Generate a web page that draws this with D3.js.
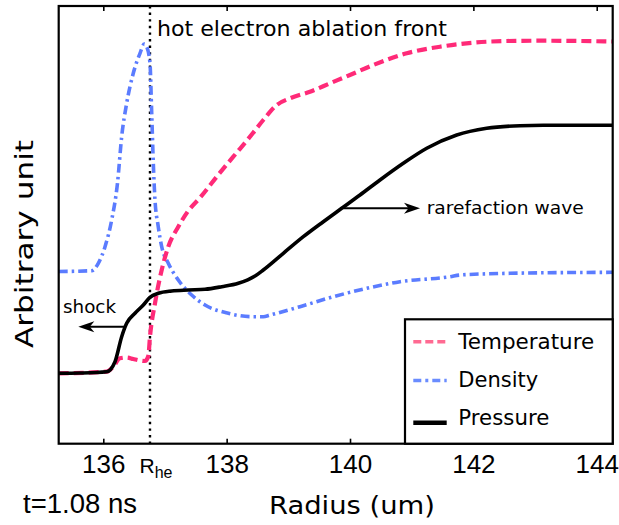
<!DOCTYPE html>
<html>
<head>
<meta charset="utf-8">
<script src="https://cdn.jsdelivr.net/npm/d3@7"></script>
<style>
  html, body { margin: 0; padding: 0; background: #fff; }
  svg { display: block; }
</style>
</head>
<body>
<svg id="chart" width="619" height="525"></svg>
<script>
// ---------- data (radius in um, values in arbitrary units) ----------
const seriesNames = ["Temperature", "Density", "Pressure"];

const temperatureR = [135.277,136.055,136.157,136.271,136.379,136.486,136.595,136.676,136.730,136.757,136.838,136.947,137.054,137.216,137.378,137.568,137.839,138.108,138.379,138.594,138.812,139.027,139.351,139.676,139.999,140.378,140.919,141.459,141.999,142.541,143.081,144.259];
const temperatureV = [16.08,16.45,17.52,19.51,19.69,19.35,19.01,18.89,20.04,24.45,32.08,39.68,45.01,49.58,53.2,56.2,61.00,65.57,70.14,73.95,77.38,78.91,80.42,82.34,84.24,86.52,89.19,90.70,91.62,92.00,92.07,91.89];

const densityR = [135.277,135.812,135.919,136.028,136.136,136.230,136.298,136.379,136.486,136.595,136.665,136.704,136.757,136.785,136.811,136.838,136.887,136.947,137.054,137.216,137.433,137.649,138.027,138.406,138.594,138.703,139.189,139.729,140.271,140.811,141.622,141.784,142.595,144.259];
const densityV = [39.34,39.52,41.22,45.01,51.11,59.5,70.14,77.77,84.62,89.19,91.32,90.70,86.91,75.49,64.06,55.68,49.97,45.01,41.22,37.40,33.97,31.69,29.79,29.02,29.02,29.40,31.30,33.58,35.50,37.01,38.15,38.54,38.93,39.16];

const pressureR = [135.277,135.622,136.055,136.190,136.298,136.379,136.514,136.649,136.757,136.892,137.109,137.378,137.649,137.920,138.189,138.460,138.594,138.919,139.243,139.567,139.865,140.162,140.486,140.864,141.244,141.730,142.216,142.756,143.134,144.259];
const pressureV = [16.08,16.15,16.45,18.73,24.45,27.51,29.79,31.69,33.45,34.36,34.89,35.12,35.28,35.87,36.65,38.31,39.68,43.50,47.29,50.72,53.78,56.82,60.25,64.06,67.49,70.53,72.06,72.65,72.74,72.74];

const xTicks = [136, 138, 140, 142, 144];
const xDomain = [135.277, 144.259];
const yDomain = [0, 100];
const rHe = 136.757;

// annotations (data coords)
const shockArrow = { from: [136.35, 26.73], to: [135.595, 26.73] };
const rareArrow  = { from: [139.891, 53.78], to: [141.135, 53.78] };

// ---------- layout ----------
const L = 58.7, T = 6, R = 612.7, B = 443.7;
const svg = d3.select("#chart");

const x = d3.scaleLinear().domain(xDomain).range([L, R]);
const y = d3.scaleLinear().domain(yDomain).range([B, T]);

const colors = { Temperature: "#ff2a78", Density: "#5b7cff", Pressure: "#000000" };
const legendColors = { Temperature: "#ff6a92", Density: "#6a8cff", Pressure: "#000000" };
const styles = {
  Temperature: { width: 4.2, dash: "10,5" },
  Density: { width: 3.6, dash: "9,4,2.5,4" },
  Pressure: { width: 3.6, dash: null }
};

svg.append("clipPath").attr("id", "plotclip")
  .append("rect").attr("x", L).attr("y", T).attr("width", R - L).attr("height", B - T);

const line = d3.line().x(d => x(d[0])).y(d => y(d[1])).curve(d3.curveMonotoneX);
const zip = (a, b) => a.map((v, i) => [v, b[i]]);
const seriesData = {
  Temperature: zip(temperatureR, temperatureV),
  Density: zip(densityR, densityV),
  Pressure: zip(pressureR, pressureV)
};

const plot = svg.append("g").attr("clip-path", "url(#plotclip)");

// dotted R_he line
plot.append("line")
  .attr("x1", x(rHe)).attr("x2", x(rHe))
  .attr("y1", T).attr("y2", B)
  .attr("stroke", "#000").attr("stroke-width", 2.4)
  .attr("stroke-dasharray", "2.4,4.2");

["Density", "Temperature", "Pressure"].forEach(name => {
  plot.append("path")
    .datum(seriesData[name])
    .attr("d", line)
    .attr("fill", "none")
    .attr("stroke", colors[name])
    .attr("stroke-width", styles[name].width)
    .attr("stroke-dasharray", styles[name].dash)
    .attr("stroke-linejoin", "round");
});

// ---------- axes ----------
const bottomAxis = d3.axisBottom(x).tickValues(xTicks).tickFormat(d3.format("d"))
  .tickSizeInner(-5).tickSizeOuter(0).tickPadding(11);
const gB = svg.append("g").attr("transform", `translate(0,${B})`).call(bottomAxis);
gB.select(".domain").remove();
gB.selectAll(".tick line").attr("stroke", "#000").attr("stroke-width", 1.6);
gB.selectAll(".tick text")
  .attr("font-family", "Liberation Sans, Arial, sans-serif")
  .attr("font-size", 26).attr("fill", "#000");

const topAxis = d3.axisTop(x).tickValues(xTicks).tickFormat("")
  .tickSizeInner(-5).tickSizeOuter(0);
const gT = svg.append("g").attr("transform", `translate(0,${T})`).call(topAxis);
gT.select(".domain").remove();
gT.selectAll(".tick line").attr("stroke", "#000").attr("stroke-width", 1.6);

// frame
svg.append("rect").attr("x", L).attr("y", T).attr("width", R - L).attr("height", B - T)
  .attr("fill", "none").attr("stroke", "#000").attr("stroke-width", 2.2);

// R_he label
const rt = svg.append("text")
  .attr("x", x(rHe) - 10.5).attr("y", 473.3)
  .attr("font-family", "Liberation Sans, Arial, sans-serif")
  .attr("font-size", 21).attr("fill", "#000");
rt.append("tspan").text("R");
rt.append("tspan").attr("font-size", 16).attr("dy", 5).text("he");

// axis titles
svg.append("text")
  .attr("x", 269).attr("y", 514)
  .attr("font-family", "DejaVu Sans, sans-serif")
  .attr("font-size", 24).attr("textLength", 166).attr("lengthAdjust", "spacingAndGlyphs")
  .attr("fill", "#000").text("Radius (um)");

svg.append("text")
  .attr("transform", "translate(33,348) rotate(-90)")
  .attr("font-family", "DejaVu Sans, sans-serif")
  .attr("font-size", 25).attr("textLength", 208).attr("lengthAdjust", "spacingAndGlyphs")
  .attr("fill", "#000").text("Arbitrary unit");

svg.append("text")
  .attr("x", 23).attr("y", 513)
  .attr("font-family", "Liberation Sans, Arial, sans-serif")
  .attr("font-size", 27.5).attr("textLength", 114).attr("lengthAdjust", "spacingAndGlyphs")
  .attr("fill", "#000").text("t=1.08 ns");

// ---------- annotations ----------
svg.append("text")
  .attr("x", x(rHe) + 7).attr("y", 36)
  .attr("font-family", "DejaVu Sans, sans-serif")
  .attr("font-size", 22).attr("textLength", 290).attr("lengthAdjust", "spacingAndGlyphs")
  .attr("fill", "#000").text("hot electron ablation front");

function arrow(a) {
  const x1 = x(a.from[0]), y1 = y(a.from[1]), x2 = x(a.to[0]), y2 = y(a.to[1]);
  const ang = Math.atan2(y2 - y1, x2 - x1);
  const len = 16, w = 5.5, ind = 4.5;
  svg.append("line").attr("x1", x1).attr("y1", y1)
    .attr("x2", x2 - Math.cos(ang) * 6).attr("y2", y2 - Math.sin(ang) * 6)
    .attr("stroke", "#000").attr("stroke-width", 2);
  const head = `M0,0 L${-len},${-w} L${-len + ind},0 L${-len},${w} Z`;
  svg.append("path").attr("d", head)
    .attr("transform", `translate(${x2},${y2}) rotate(${ang * 180 / Math.PI})`)
    .attr("fill", "#000");
}
arrow(shockArrow);
arrow(rareArrow);

svg.append("text")
  .attr("x", 63).attr("y", 312.5)
  .attr("font-family", "DejaVu Sans, sans-serif")
  .attr("font-size", 18.5).attr("textLength", 53).attr("lengthAdjust", "spacingAndGlyphs")
  .attr("fill", "#000").text("shock");

svg.append("text")
  .attr("x", 426.7).attr("y", 213.5)
  .attr("font-family", "DejaVu Sans, sans-serif")
  .attr("font-size", 18.3).attr("textLength", 157).attr("lengthAdjust", "spacingAndGlyphs")
  .attr("fill", "#000").text("rarefaction wave");

// ---------- legend ----------
const lg = svg.append("g");
lg.append("rect").attr("x", 405).attr("y", 319.3).attr("width", R - 405).attr("height", B - 319.3)
  .attr("fill", "#fff").attr("stroke", "#000").attr("stroke-width", 2.2);
const legendY = [341.7, 380.5, 422.7];
const legendTextY = [349.3, 386.5, 425];
const legendTextW = [136, 80, 91];
seriesNames.forEach((name, i) => {
  lg.append("line")
    .attr("x1", 413.3).attr("x2", 446.7)
    .attr("y1", legendY[i]).attr("y2", legendY[i])
    .attr("stroke", legendColors[name])
    .attr("stroke-width", name === "Pressure" ? 4.5 : 3.6)
    .attr("stroke-dasharray", name === "Temperature" ? "8,4" : name === "Density" ? "8,4,3,4" : null);
  lg.append("text")
    .attr("x", 458.3).attr("y", legendTextY[i])
    .attr("font-family", "DejaVu Sans, sans-serif")
    .attr("font-size", 20.5)
    .attr("textLength", legendTextW[i]).attr("lengthAdjust", "spacingAndGlyphs")
    .attr("fill", "#000").text(name);
});
</script>
</body>
</html>
